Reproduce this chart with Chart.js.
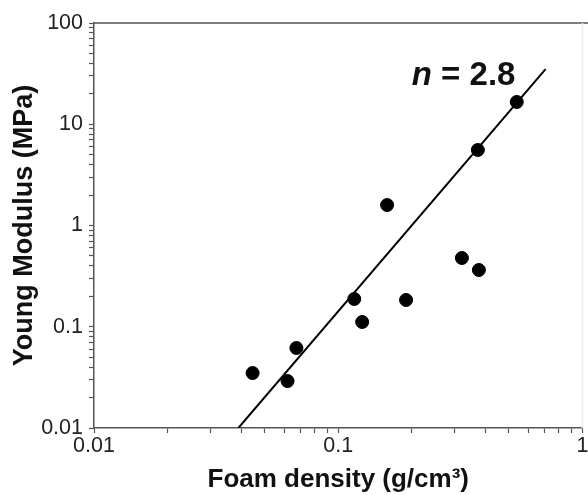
<!DOCTYPE html>
<html>
<head>
<meta charset="utf-8">
<script src="https://cdn.jsdelivr.net/npm/chart.js@4.4.0/dist/chart.umd.min.js"></script>
<style>
  html, body { margin: 0; padding: 0; background: #fff; overflow: hidden; }
  #wrap { width: 590px; height: 495px; }
</style>
</head>
<body>
<div id="wrap"><canvas id="modulusChart"></canvas></div>
<script>
// Measured foams: density (g/cm3) vs Young modulus (MPa)
const density = [0.0446, 0.062, 0.0674, 0.1163, 0.1253, 0.1585, 0.1895, 0.3208, 0.3765, 0.3728, 0.538];
const modulus = [0.0349, 0.0291, 0.0617, 0.188, 0.1114, 1.593, 0.1838, 0.4775, 0.3635, 5.57, 16.6];

// Power-law fit, drawn between its two end points
const fitDensity = [0.039, 0.706];
const fitModulus = [0.01, 35];
const exponentSymbol = 'n';
const exponentValue = '2.8';

const xTickLabels = ['0.01', '0.1', '1'];
const yTickLabels = ['0.01', '0.1', '1', '10', '100'];

const FONT = 'Arial, "Liberation Sans", Helvetica, sans-serif';
const axisColor = '#555';
const textColor = '#222';

// Major tick at each decade plus minor ticks 2..9 in between
function decadeTicks(labels) {
  const majors = labels.map(Number);
  const ticks = [];
  majors.forEach((base, i) => {
    ticks.push({ value: base, major: true });
    if (i < majors.length - 1) {
      for (let k = 2; k <= 9; k++) ticks.push({ value: base * k, major: false });
    }
  });
  return ticks;
}

function labelFor(labels) {
  return (value, i, ticks) => {
    if (!ticks[i].major) return '';
    return labels.find(l => Math.abs(Number(l) / value - 1) < 1e-9) || '';
  };
}

// Top/right frame and the exponent annotation
const frameAndLabel = {
  id: 'frameAndLabel',
  afterDraw(chart) {
    const { ctx, chartArea: a, scales: { x, y } } = chart;
    ctx.save();
    ctx.lineWidth = 1.5;
    ctx.strokeStyle = axisColor;
    ctx.beginPath();
    ctx.moveTo(a.left, a.top);
    ctx.lineTo(a.right + 10, a.top);
    ctx.stroke();
    ctx.strokeStyle = '#ececec';
    ctx.beginPath();
    ctx.moveTo(a.right, a.top);
    ctx.lineTo(a.right, a.bottom);
    ctx.stroke();

    const tx = x.getPixelForValue(0.2);
    const ty = y.getPixelForValue(24.4);
    ctx.fillStyle = '#111';
    ctx.textBaseline = 'alphabetic';
    ctx.textAlign = 'left';
    ctx.font = 'italic bold 33px ' + FONT;
    ctx.fillText(exponentSymbol, tx, ty);
    const w = ctx.measureText(exponentSymbol).width;
    ctx.font = 'bold 33px ' + FONT;
    ctx.fillText(' = ' + exponentValue, tx + w, ty);
    ctx.restore();
  }
};

const axisBase = {
  type: 'logarithmic',
  grid: {
    display: true,
    drawOnChartArea: false,
    drawTicks: true,
    tickLength: 5,
    tickColor: axisColor,
    tickWidth: 1.2,
    color: axisColor
  },
  border: { display: true, color: axisColor, width: 1.5 }
};

new Chart(document.getElementById('modulusChart'), {
  type: 'scatter',
  data: {
    datasets: [
      {
        label: 'Foams',
        data: density.map((d, i) => ({ x: d, y: modulus[i] })),
        backgroundColor: '#000',
        borderColor: '#000',
        pointRadius: 6.5,
        pointHoverRadius: 6.5
      },
      {
        label: 'Fit',
        data: fitDensity.map((d, i) => ({ x: d, y: fitModulus[i] })),
        showLine: true,
        borderColor: '#000',
        borderWidth: 2,
        pointRadius: 0
      }
    ]
  },
  options: {
    animation: false,
    responsive: true,
    maintainAspectRatio: false,
    layout: { padding: { top: 23, right: 0, left: 0, bottom: 0 } },
    scales: {
      x: {
        ...axisBase,
        position: 'bottom',
        min: 0.01,
        max: 1,
        afterBuildTicks: s => { s.ticks = decadeTicks(xTickLabels); },
        afterFit: s => { s.height = 67; },
        ticks: {
          autoSkip: false,
          maxRotation: 0,
          padding: 0,
          color: textColor,
          font: { family: FONT, size: 21.5 },
          callback: labelFor(xTickLabels)
        },
        title: {
          display: true,
          text: 'Foam density (g/cm³)',
          color: '#111',
          font: { family: FONT, size: 26, weight: 'bold' },
          padding: { top: 0, bottom: 0 }
        }
      },
      y: {
        ...axisBase,
        position: 'left',
        min: 0.01,
        max: 100,
        afterBuildTicks: s => { s.ticks = decadeTicks(yTickLabels); },
        afterFit: s => { s.width = 94; },
        ticks: {
          autoSkip: false,
          padding: 6,
          color: textColor,
          font: { family: FONT, size: 21.5 },
          callback: labelFor(yTickLabels)
        },
        title: {
          display: true,
          text: 'Young Modulus (MPa)',
          color: '#111',
          font: { family: FONT, size: 27, weight: 'bold' },
          padding: { top: 8, bottom: 0 }
        }
      }
    },
    plugins: {
      legend: { display: false },
      tooltip: { enabled: false }
    }
  },
  plugins: [frameAndLabel]
});
</script>
</body>
</html>
